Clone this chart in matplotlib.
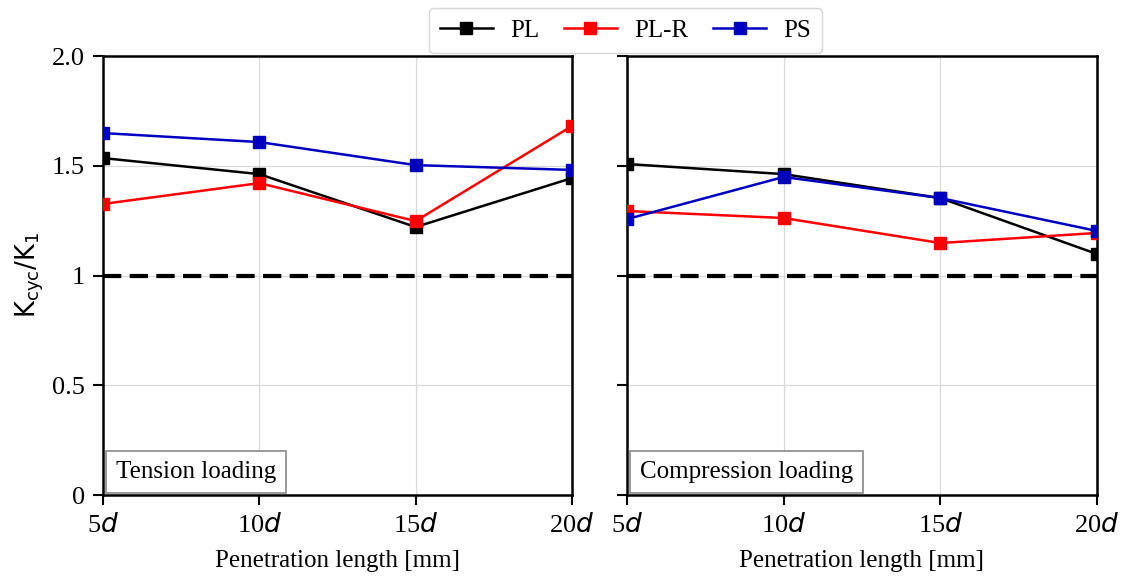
import matplotlib
matplotlib.use("Agg")
import matplotlib.pyplot as plt

positions = [5, 10, 15, 20]
tick_labels = ["5$d$", "10$d$", "15$d$", "20$d$"]
series_names = ["PL", "PL-R", "PS"]

tension_PL = [1.535, 1.462, 1.221, 1.444]
tension_PLR = [1.326, 1.421, 1.248, 1.681]
tension_PS = [1.649, 1.608, 1.503, 1.481]

compression_PL = [1.508, 1.462, 1.353, 1.098]
compression_PLR = [1.294, 1.262, 1.148, 1.194]
compression_PS = [1.257, 1.449, 1.353, 1.203]

yticks = [0, 0.5, 1, 1.5, 2.0]
ytick_labels = ["0", "0.5", "1", "1.5", "2.0"]

colors = ["#000000", "#ff0000", "#0000c0"]

plt.rcParams['font.family'] = ['Liberation Serif', 'DejaVu Serif']
plt.rcParams['mathtext.fontset'] = 'dejavusans'

fig = plt.figure(figsize=(11.23, 5.77), dpi=100)
ax1 = fig.add_axes([0.0917, 0.1421, 0.4176, 0.7608])
ax2 = fig.add_axes([0.5583, 0.1421, 0.4185, 0.7608])

panels = [
    (ax1, [tension_PL, tension_PLR, tension_PS], "Tension loading"),
    (ax2, [compression_PL, compression_PLR, compression_PS], "Compression loading"),
]

handles = []
for ax, data, label in panels:
    ax.grid(True, color="#d8d8d8", linewidth=0.9)
    ax.set_axisbelow(True)
    ax.axhline(1.0, color="black", linestyle=(0, (4.4, 2.0)), linewidth=3, zorder=2)
    hs = []
    for vals, name, c in zip(data, series_names, colors):
        h, = ax.plot(positions, vals, color=c, marker="s", markersize=9,
                     linewidth=1.8, label=name, zorder=3)
        hs.append(h)
    handles = hs
    ax.set_xlim(5, 20)
    ax.set_ylim(0, 2.0)
    ax.set_xticks(positions)
    ax.set_xticklabels(tick_labels)
    ax.set_yticks(yticks)
    ax.tick_params(axis="both", direction="out", length=7, width=1.5, labelsize=19, pad=6)
    for sp in ax.spines.values():
        sp.set_linewidth(1.8)
    ax.set_xlabel("Penetration length [mm]", fontsize=18, labelpad=9)
    ax.text(0.028, 0.027, label, transform=ax.transAxes, fontsize=18,
            va="bottom", ha="left", zorder=5,
            bbox=dict(boxstyle="square,pad=0.4", facecolor="white",
                      edgecolor="#888888", linewidth=1.2))

ax1.set_yticklabels(ytick_labels)
ax2.set_yticklabels([])
ax1.set_ylabel(r"$\mathrm{K_{cyc}/K_1}$", fontsize=18.5, labelpad=4)

fig.legend(handles, series_names, loc="upper center", bbox_to_anchor=(0.557, 1.008),
           ncol=3, fontsize=18, frameon=True, handlelength=2.1, handletextpad=0.7,
           columnspacing=1.0, edgecolor="#cccccc", fancybox=True, borderpad=0.45)

fig.savefig("out.png", dpi=100)
